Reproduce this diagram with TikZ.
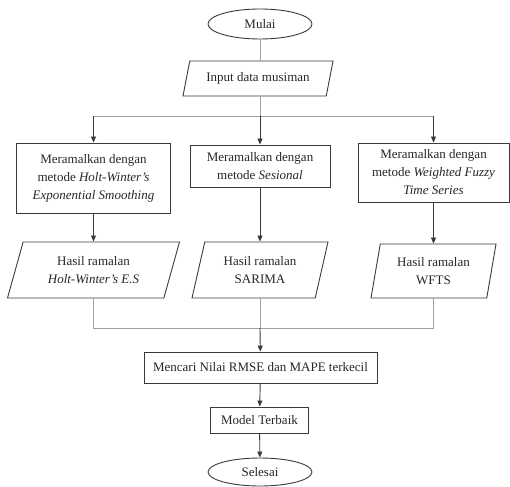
\documentclass[tikz,border=0pt]{standalone}
\usepackage{fontspec}
\setmainfont{Liberation Serif}
\usepackage{xcolor}
\definecolor{cLine}{HTML}{3A3A3A}
\definecolor{cGray}{HTML}{A0A0A0}
\definecolor{cText}{HTML}{262626}
\usetikzlibrary{positioning,arrows.meta,shapes.geometric}
\tikzset{
  node-term/.style={ellipse,draw=cLine,line width=0.9pt,minimum width=104pt,
    minimum height=30pt,inner sep=1pt,font=\fontsize{13}{18}\selectfont,text=cText},
  node-box/.style={rectangle,draw=cLine,line width=0.9pt,align=center,inner sep=2pt,
    font=\fontsize{13}{18}\selectfont,text=cText},
  node-data/.style 2 args={trapezium,trapezium left angle=#1,trapezium right angle=#2,
    trapezium stretches body,draw=cLine,line width=0.9pt,align=center,inner sep=2pt,
    font=\fontsize{13}{18}\selectfont,text=cText},
  line/.style={line width=0.9pt,draw=cGray},
  arrow/.style={-{Triangle[length=6pt,width=5pt]},line width=0.9pt,draw=cLine},
}
\begin{document}
\begin{tikzpicture}[x=1pt,y=-1pt]
  \useasboundingbox (0,0) rectangle (510,486);
  \node[node-term] (mulai) at (260,24) {Mulai};
  \node[node-data={66.8}{113.2},minimum width=150pt,minimum height=35pt] (input) at (258,78.5) {Input data musiman};
  \node[node-box,minimum width=154pt,minimum height=70pt] (hw) at (93.5,178) {Meramalkan dengan\\metode \textit{Holt-Winter's}\\\textit{Exponential Smoothing}};
  \node[node-box,minimum width=140pt,minimum height=42pt] (ses) at (260,166) {Meramalkan dengan\\metode \textit{Sesional}};
  \node[node-box,minimum width=151pt,minimum height=59pt] (wf) at (433.5,172.5) {Meramalkan dengan\\metode \textit{Weighted Fuzzy}\\\textit{Time Series}};
  \node[node-data={63.4}{116.6},minimum width=172pt,minimum height=56pt] (hwres) at (93.5,270) {Hasil ramalan\\\textit{Holt-Winter's E.S}};
  \node[node-data={67.7}{112.3},minimum width=136pt,minimum height=56pt] (sarima) at (260,270) {Hasil ramalan\\SARIMA};
  \node[node-data={73.5}{106.5},minimum width=125pt,minimum height=54pt] (wfts) at (433.5,271) {Hasil ramalan\\WFTS};
  \node[node-box,minimum width=233pt,minimum height=31pt] (rmse) at (260.5,367.5) {Mencari Nilai RMSE dan MAPE terkecil};
  \node[node-box,minimum width=98pt,minimum height=26pt] (best) at (259.5,420) {Model Terbaik};
  \node[node-term,minimum height=28pt] (selesai) at (260,472) {Selesai};
  \coordinate (split) at (260,116);
  \coordinate (join) at (260,328);
  \draw[line] (mulai) -- (mulai |- input.north);
  \draw[line] (split |- input.south) -- (split);
  \draw[line] (hw.north |- split) -- (wf.north |- split);
  \foreach \n in {hw,ses,wf}
    \draw[arrow] (\n.north |- split) -- (\n);
  \draw[arrow] (hw) -- (hwres);
  \draw[arrow] (ses) -- (sarima);
  \draw[arrow] (wf) -- (wfts);
  \draw[line] (hwres) -- (hwres |- join) -- (wfts |- join) -- (wfts);
  \draw[line] (sarima) -- (join);
  \draw[arrow] (join) -- (rmse);
  \draw[arrow] (rmse) -- (best);
  \draw[arrow] (best) -- (selesai);
\end{tikzpicture}
\end{document}
